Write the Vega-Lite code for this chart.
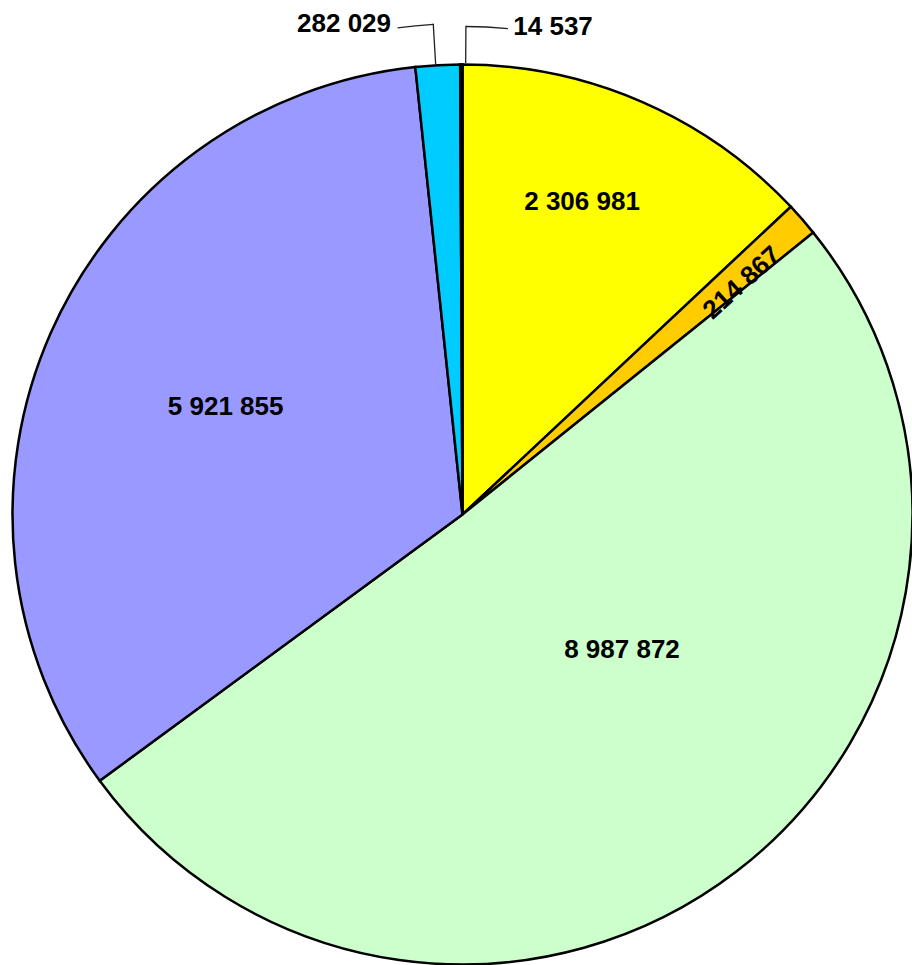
{
  "$schema": "https://vega.github.io/schema/vega-lite/v6.json",
  "width": 900,
  "height": 900,
  "autosize": {"type": "none"},
  "padding": {"left": 12.5, "top": 64.5, "right": 0, "bottom": 0},
  "background": "white",
  "config": {"view": {"stroke": null}},
  "data": {
    "values": [
      {"idx": 1, "cat": "A", "value": 2306981, "label": "2 306 981"},
      {"idx": 2, "cat": "B", "value": 214867, "label": "214 867"},
      {"idx": 3, "cat": "C", "value": 8987872, "label": "8 987 872"},
      {"idx": 4, "cat": "D", "value": 5921855, "label": "5 921 855"},
      {"idx": 5, "cat": "E", "value": 282029, "label": "282 029"},
      {"idx": 6, "cat": "F", "value": 14537, "label": "14 537"}
    ]
  },
  "layer": [
    {
      "mark": {"type": "arc", "outerRadius": 450, "stroke": "#000000", "strokeWidth": 2.5},
      "encoding": {
        "theta": {"field": "value", "type": "quantitative", "stack": true},
        "order": {"field": "idx", "type": "quantitative"},
        "color": {
          "field": "cat",
          "type": "nominal",
          "scale": {"domain": ["A", "B", "C", "D", "E", "F"], "range": ["#FFFF00", "#FFCC00", "#CCFFCC", "#9999FF", "#00CCFF", "#333333"]},
          "legend": null
        }
      }
    },
    {
      "transform": [{"stack": "value", "groupby": [], "sort": [{"field": "idx", "order": "ascending"}], "as": ["v0", "v1"]}],
      "mark": {"type": "arc", "radius": 491, "radius2": 452, "thetaOffset": 0.0456, "theta2Offset": -0.0544, "fill": "white", "fillOpacity": 0, "stroke": "#222222", "strokeWidth": 1.3},
      "encoding": {
        "theta": {"field": "v0", "type": "quantitative"},
        "theta2": {"field": "v1"},
        "strokeOpacity": {"condition": {"test": "datum.cat === 'E'", "value": 1}, "value": 0}
      }
    },
    {
      "transform": [{"stack": "value", "groupby": [], "sort": [{"field": "idx", "order": "ascending"}], "as": ["v0", "v1"]}],
      "mark": {"type": "arc", "radius": 491, "radius2": 491, "thetaOffset": -0.0276, "theta2Offset": -0.0541, "fill": "white", "fillOpacity": 0, "stroke": "#222222", "strokeWidth": 1.3},
      "encoding": {
        "theta": {"field": "v0", "type": "quantitative"},
        "theta2": {"field": "v1"},
        "strokeOpacity": {"condition": {"test": "datum.cat === 'E'", "value": 1}, "value": 0}
      }
    },
    {
      "transform": [{"stack": "value", "groupby": [], "sort": [{"field": "idx", "order": "ascending"}], "as": ["v0", "v1"]}],
      "mark": {"type": "arc", "radius": 488, "radius2": 452, "thetaOffset": 0.0122, "theta2Offset": 0.007, "fill": "white", "fillOpacity": 0, "stroke": "#222222", "strokeWidth": 1.3},
      "encoding": {
        "theta": {"field": "v0", "type": "quantitative"},
        "theta2": {"field": "v1"},
        "strokeOpacity": {"condition": {"test": "datum.cat === 'F'", "value": 1}, "value": 0}
      }
    },
    {
      "transform": [{"stack": "value", "groupby": [], "sort": [{"field": "idx", "order": "ascending"}], "as": ["v0", "v1"]}],
      "mark": {"type": "arc", "radius": 488, "radius2": 488, "thetaOffset": 0.0122, "theta2Offset": 0.0932, "fill": "white", "fillOpacity": 0, "stroke": "#222222", "strokeWidth": 1.3},
      "encoding": {
        "theta": {"field": "v0", "type": "quantitative"},
        "theta2": {"field": "v1"},
        "strokeOpacity": {"condition": {"test": "datum.cat === 'F'", "value": 1}, "value": 0}
      }
    },
    {
      "mark": {"type": "text", "radius": 335, "thetaOffset": -0.044, "font": "Liberation Sans", "fontWeight": "bold", "fontSize": 26, "fill": "#000000"},
      "encoding": {
        "theta": {"field": "value", "type": "quantitative", "stack": true},
        "order": {"field": "idx", "type": "quantitative"},
        "text": {"condition": {"test": "datum.cat === 'A'", "field": "label"}, "value": ""}
      }
    },
    {
      "mark": {"type": "text", "radius": 363, "thetaOffset": 0.023, "angle": 318, "font": "Liberation Sans", "fontWeight": "bold", "fontSize": 26, "fill": "#000000"},
      "encoding": {
        "theta": {"field": "value", "type": "quantitative", "stack": true},
        "order": {"field": "idx", "type": "quantitative"},
        "text": {"condition": {"test": "datum.cat === 'B'", "field": "label"}, "value": ""}
      }
    },
    {
      "mark": {"type": "text", "radius": 209, "thetaOffset": -0.213, "font": "Liberation Sans", "fontWeight": "bold", "fontSize": 26, "fill": "#000000"},
      "encoding": {
        "theta": {"field": "value", "type": "quantitative", "stack": true},
        "order": {"field": "idx", "type": "quantitative"},
        "text": {"condition": {"test": "datum.cat === 'C'", "field": "label"}, "value": ""}
      }
    },
    {
      "mark": {"type": "text", "radius": 260, "thetaOffset": 0.009, "font": "Liberation Sans", "fontWeight": "bold", "fontSize": 26, "fill": "#000000"},
      "encoding": {
        "theta": {"field": "value", "type": "quantitative", "stack": true},
        "order": {"field": "idx", "type": "quantitative"},
        "text": {"condition": {"test": "datum.cat === 'D'", "field": "label"}, "value": ""}
      }
    },
    {
      "mark": {"type": "text", "radius": 505, "thetaOffset": -0.1817, "font": "Liberation Sans", "fontWeight": "bold", "fontSize": 26, "fill": "#000000"},
      "encoding": {
        "theta": {"field": "value", "type": "quantitative", "stack": true},
        "order": {"field": "idx", "type": "quantitative"},
        "text": {"condition": {"test": "datum.cat === 'E'", "field": "label"}, "value": ""}
      }
    },
    {
      "mark": {"type": "text", "radius": 496, "thetaOffset": 0.1862, "font": "Liberation Sans", "fontWeight": "bold", "fontSize": 26, "fill": "#000000"},
      "encoding": {
        "theta": {"field": "value", "type": "quantitative", "stack": true},
        "order": {"field": "idx", "type": "quantitative"},
        "text": {"condition": {"test": "datum.cat === 'F'", "field": "label"}, "value": ""}
      }
    }
  ]
}
